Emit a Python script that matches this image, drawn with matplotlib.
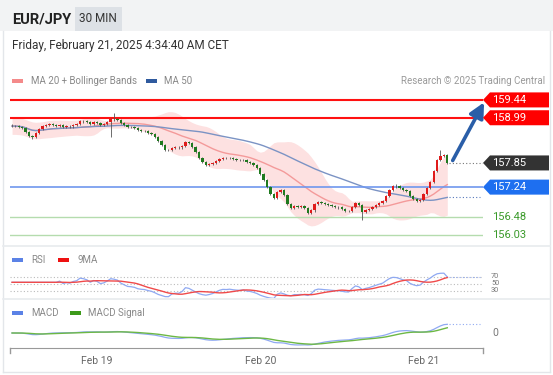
import numpy as np
import pandas as pd
import matplotlib
matplotlib.use("Agg")
import matplotlib.pyplot as plt
import matplotlib.transforms as mtrans
from matplotlib.patches import Polygon, Rectangle
from matplotlib.lines import Line2D

plt.rcParams["font.family"] = ["Roboto", "DejaVu Sans"]

# =========================
# Data (30 min candles, EUR/JPY)
# =========================
start_time = "2025-02-18 11:30"
first_open = 158.79
closes = [
    158.78, 158.78, 158.76, 158.73, 158.63, 158.53, 158.51, 158.61, 158.71, 158.78,
    158.81, 158.83, 158.81, 158.78, 158.81, 158.76, 158.78, 158.77, 158.81, 158.83,
    158.91, 158.90, 158.88, 158.83, 158.88, 158.86, 158.81, 158.83, 158.88, 158.96,
    158.95, 158.93, 158.86, 158.81, 158.76, 158.75, 158.73, 158.68, 158.66, 158.65,
    158.61, 158.58, 158.51, 158.40, 158.30, 158.18, 158.17, 158.23, 158.25, 158.24,
    158.28, 158.38, 158.35, 158.25, 158.13, 157.98, 157.87, 157.80, 157.82, 157.85,
    157.90, 157.95, 157.98, 157.97, 157.98, 157.95, 157.93, 157.92, 157.93, 157.87,
    157.85, 157.80, 157.72, 157.57, 157.42, 157.24, 157.07, 156.97, 157.12, 157.17,
    157.04, 156.81, 156.71, 156.76, 156.75, 156.76, 156.71, 156.59, 156.66, 156.81,
    156.86, 156.84, 156.81, 156.79, 156.76, 156.74, 156.73, 156.69, 156.64, 156.63,
    156.74, 156.84, 156.79, 156.61, 156.66, 156.69, 156.74, 156.79, 156.84, 156.89,
    157.02, 157.17, 157.27, 157.26, 157.22, 157.17, 157.14, 157.02, 156.94, 156.89,
    156.92, 157.07, 157.22, 157.37, 157.65, 157.93, 158.03, 158.05, 157.85,
]
long_highs = {30: 159.11, 126: 158.18, 113: 157.33}
long_lows = {29: 158.51, 103: 156.41, 6: 158.45, 89: 156.62}

resistances = [159.44, 158.99]
last_price = 157.85
pivot = 157.24
supports = [156.48, 156.03]
rsi_levels = [70, 50, 30]

W, H = 553, 375


def fx(px):
    return px / W


def fy(py):
    return 1 - py / H


# =========================
# Indicators
# =========================
close = pd.Series(closes)
opens = pd.Series([first_open] + closes[:-1])
n = len(close)
idx = np.arange(n)
times = pd.date_range(start_time, periods=n, freq="30min")

ma20 = close.rolling(20, min_periods=1).mean()
sd20 = close.rolling(20, min_periods=10).std().bfill()
bb_up = ma20 + 2 * sd20
bb_lo = ma20 - 2 * sd20
ma50 = close.rolling(50, min_periods=1).mean()

delta = close.diff().fillna(0)
gain = delta.clip(lower=0).ewm(alpha=1 / 14, adjust=False, min_periods=14).mean()
loss = (-delta.clip(upper=0)).ewm(alpha=1 / 14, adjust=False, min_periods=14).mean()
rs = gain / loss.replace(0, np.nan)
rsi = (100 - 100 / (1 + rs)).bfill()
rsi_ma = rsi.rolling(9, min_periods=1).mean()

ema12 = close.ewm(span=12, adjust=False).mean()
ema26 = close.ewm(span=26, adjust=False).mean()
macd = ema12 - ema26
signal = macd.ewm(span=9, adjust=False).mean()

highs = np.maximum(opens, close) + 0.03
lows = np.minimum(opens, close) - 0.03
for k, v in long_highs.items():
    highs[k] = v
for k, v in long_lows.items():
    lows[k] = v

# =========================
# Figure
# =========================
fig = plt.figure(figsize=(W / 100, H / 100), dpi=100)
fig.patch.set_facecolor("white")

# header bar
fig.patches.append(Rectangle((0, fy(31)), 1, 31 / H, transform=fig.transFigure,
                             facecolor="#f2f3f4", edgecolor="none", zorder=0))
fig.patches.append(Rectangle((fx(75), fy(31)), 47 / W, 24 / H, transform=fig.transFigure,
                             facecolor="#dde1e6", edgecolor="none", zorder=1))
fig.text(fx(12), fy(19), "EUR/JPY", fontsize=10.5, fontweight="bold", color="#222222", va="center")
fig.text(fx(98), fy(19), "30 MIN", fontsize=8.5, color="#333333", va="center", ha="center")
fig.text(fx(12), fy(45), "Friday, February 21, 2025 4:34:40 AM CET", fontsize=8.5,
         color="#333333", va="center")

# frame + separators
fig.lines.append(Line2D([fx(3), fx(3)], [fy(31), fy(372)], transform=fig.transFigure,
                        color="#e3e6ea", lw=1))
fig.lines.append(Line2D([fx(550), fx(550)], [fy(31), fy(372)], transform=fig.transFigure,
                        color="#e3e6ea", lw=1))
fig.lines.append(Line2D([fx(3), fx(550)], [fy(372), fy(372)], transform=fig.transFigure,
                        color="#e3e6ea", lw=1))
for sep in (246, 299):
    fig.lines.append(Line2D([fx(3), fx(550)], [fy(sep), fy(sep)], transform=fig.transFigure,
                            color="#e8ebee", lw=1.2))

# legends (drawn as text + swatches)
def swatch(x0, y, color, label, tx):
    fig.patches.append(Rectangle((fx(x0), fy(y + 2)), 11 / W, 4 / H, transform=fig.transFigure,
                                 facecolor=color, edgecolor="none"))
    fig.text(fx(tx), fy(y), label, fontsize=7, color="#888888", va="center")


swatch(12, 81, "#f48a8a", "MA 20 + Bollinger Bands", 31)
swatch(146, 81, "#2f5a9e", "MA 50", 164)
fig.text(fx(545), fy(81), "Research \u00a9 2025 Trading Central", fontsize=7, color="#999999",
         va="center", ha="right")
swatch(12, 260, "#5b82e6", "RSI", 31)
swatch(58, 260, "#ee1111", "9MA", 77)
swatch(12, 313, "#5b82e6", "MACD", 31)
swatch(70, 313, "#3d9a1a", "MACD Signal", 88)

x_lo, x_hi = -0.6, 138.5

# =========================
# Main price panel
# =========================
ax = fig.add_axes([fx(10), fy(245), (483 - 10) / W, (245 - 90) / H])
ax.set_xlim(x_lo, x_hi)
ax.set_ylim(155.78, 159.69)
ax.axis("off")

ax.fill_between(idx, bb_lo, bb_up, color="#fde1e1", lw=0, zorder=1)
ax.plot(idx, ma20, color="#f49a9a", lw=1, zorder=2)
ax.plot(idx, ma50, color="#7b93c4", lw=1, zorder=2)

for r in resistances:
    ax.axhline(r, color="#ff1111", lw=1.5, zorder=3)
ax.axhline(pivot, color="#6f97ee", lw=1.2, zorder=3)
for s in supports:
    ax.axhline(s, color="#b5dcae", lw=1, zorder=3)

up = close >= opens
ax.vlines(idx, lows, highs, color="#555555", lw=0.6, zorder=4)
body_lo = np.minimum(opens, close)
body_h = np.maximum(np.abs(close - opens), 0.012)
ax.bar(idx[up], body_h[up], bottom=body_lo[up], width=0.7, color="#e01b1b", lw=0, zorder=5)
ax.bar(idx[~up], body_h[~up], bottom=body_lo[~up], width=0.7, color="#1f7a1f", lw=0, zorder=5)

# dotted extensions
ax.plot([n - 0.5, x_hi], [last_price, last_price], ls=(0, (1, 2)), color="#777777", lw=0.8, zorder=3)
ax.plot([n - 0.5, x_hi - 1], [ma50.iloc[-1]] * 2, ls=(0, (1, 2)), color="#5577bb", lw=0.8, zorder=3)

# forecast arrow
ax.annotate("", xy=(139.2, resistances[0]), xytext=(n + 0.2, last_price),
            arrowprops=dict(arrowstyle="-|>,head_length=0.9,head_width=0.45", color="#2a5ea8",
                            lw=2.6), annotation_clip=False, zorder=6)

# price tags on the right
tr = mtrans.blended_transform_factory(fig.transFigure, ax.transData)
hh = 7.5 / 39.6


def tag(price, color, txt_color="white"):
    pts = [(fx(483), price), (fx(490), price + hh), (fx(549), price + hh),
           (fx(549), price - hh), (fx(490), price - hh)]
    ax.add_patch(Polygon(pts, closed=True, transform=tr, facecolor=color, edgecolor="none",
                         clip_on=False, zorder=6))
    ax.text(fx(492), price, f"{price:.2f}", transform=tr, color=txt_color, fontsize=8,
            va="center", ha="left", zorder=7)


tag(resistances[0], "#ff0000")
tag(resistances[1], "#ff0000")
tag(last_price, "#333333")
tag(pivot, "#1e6ff0")
for s in supports:
    ax.text(fx(492), s, f"{s:.2f}", transform=tr, color="#3a9a2a", fontsize=8,
            va="center", ha="left")

# =========================
# RSI panel
# =========================
ax_rsi = fig.add_axes([fx(10), fy(298), (483 - 10) / W, (298 - 248) / H])
ax_rsi.set_xlim(x_lo, x_hi)
ax_rsi.set_ylim(10.4, 150.4)
ax_rsi.axis("off")
for lv in rsi_levels:
    ax_rsi.axhline(lv, color="#bbbbbb", lw=0.8, ls=(0, (1, 2)))
ax_rsi.plot(idx, rsi, color="#8fa9f2", lw=0.9)
ax_rsi.plot(idx, rsi_ma, color="#f04a4a", lw=1)
ax_rsi.plot([n - 0.5, x_hi - 1], [rsi.iloc[-1]] * 2, ls=(0, (1, 2)), color="#8fa9f2", lw=0.8)
tr_rsi = mtrans.blended_transform_factory(fig.transFigure, ax_rsi.transData)
for lv in rsi_levels:
    ax_rsi.text(fx(491), lv, str(lv), transform=tr_rsi, fontsize=5.3, color="#777777",
                va="center")

# =========================
# MACD panel
# =========================
ax_m = fig.add_axes([fx(10), fy(348), (483 - 10) / W, (348 - 299) / H])
ax_m.set_xlim(x_lo, x_hi)
scale = 12 / abs(macd.min())
ax_m.set_ylim(-15 / scale, 34 / scale)
for side in ("top", "right", "left"):
    ax_m.spines[side].set_visible(False)
ax_m.spines["bottom"].set_color("#999999")
ax_m.set_yticks([])
ax_m.plot(idx, macd, color="#8fa9f2", lw=0.9)
ax_m.plot(idx, signal, color="#6db845", lw=1)
ax_m.plot([n - 0.5, x_hi - 1], [macd.iloc[-1]] * 2, ls=(0, (1, 2)), color="#8fa9f2", lw=0.8)
tr_m = mtrans.blended_transform_factory(fig.transFigure, ax_m.transData)
ax_m.text(fx(492), 0, "0", transform=tr_m, fontsize=7.5, color="#777777", va="center")

day_pos = [i for i, t in enumerate(times) if t.hour == 0 and t.minute == 0]
ax_m.set_xticks(day_pos)
ax_m.set_xticklabels([times[i].strftime("%b %d").replace(" 0", " ") for i in day_pos],
                     fontsize=7.5, color="#666666")
ax_m.tick_params(axis="x", length=0, pad=6)
for xe in (x_lo, x_hi):
    ax_m.plot([xe, xe], [0, -0.1], transform=ax_m.get_xaxis_transform(), color="#999999",
              lw=1, clip_on=False)

fig.savefig("out.png", dpi=100)
